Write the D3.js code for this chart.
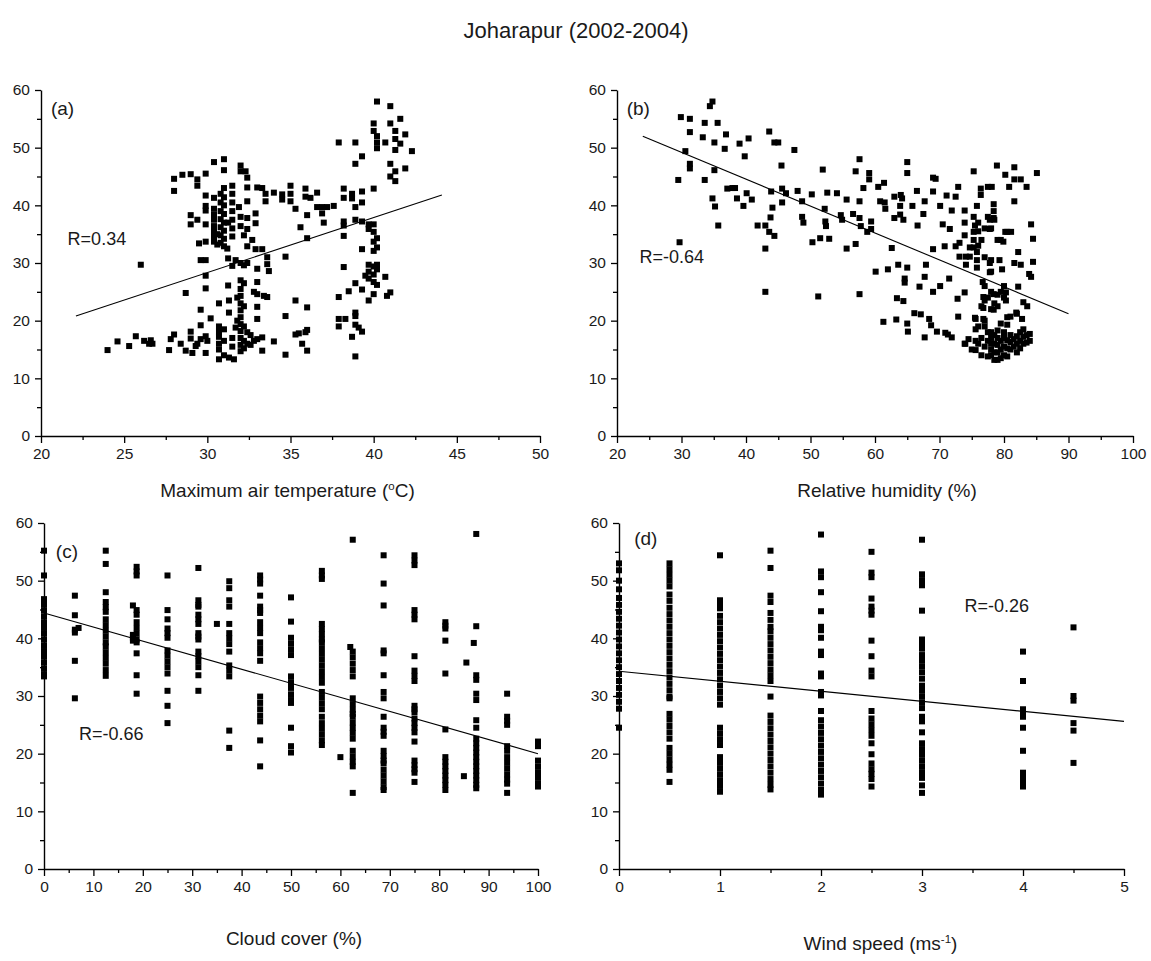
<!DOCTYPE html>
<html><head><meta charset="utf-8">
<script src="https://cdn.jsdelivr.net/npm/d3@7"></script>
<style>
html,body{margin:0;padding:0;background:#fff;}
svg{display:block;}
text{font-family:"Liberation Sans",Arial,sans-serif;fill:#1a1a1a;}
</style></head>
<body>
<svg id="chart" width="1151" height="961"></svg>
<script>
// ---------------- DATA ----------------
const chartTitle = "Joharapur (2002-2004)";
const yTicksAll = [0,10,20,30,40,50,60];
const tempTicks = [20,25,30,35,40,45,50];
const humidTicks = [20,30,40,50,60,70,80,90,100];
const cloudTicks = [0,10,20,30,40,50,60,70,80,90,100];
const windTicks = [0,1,2,3,4,5];

// (a) Maximum air temperature vs value
const tempPoints = [
[24.0,14.9],[24.6,16.4],[25.3,15.6],[25.7,17.3],[26.0,29.7],[26.2,16.5],[26.5,16.0],[26.7,16.0],[26.6,16.6],
[27.7,14.9],[27.8,16.8],[28.0,17.6],[28.0,44.6],[28.0,42.5],[28.5,45.3],[28.7,24.8],[28.7,14.8],[28.4,16.0],
[29.0,45.4],[29.0,38.3],[29.0,36.7],[29.0,18.1],[29.0,16.9],[29.1,14.4],[29.3,15.6],
[29.4,44.5],[29.4,43.4],[29.4,37.5],[29.5,33.4],[29.6,30.5],[29.6,21.9],[29.6,19.2],[29.4,16.0],[29.6,16.8],
[29.9,45.5],[29.9,41.7],[29.9,39.9],[29.9,39.1],[29.9,36.7],[29.9,33.7],[29.9,30.5],[29.9,27.8],[29.9,25.6],[29.9,17.3],[29.9,14.4],[30.0,16.5],
[30.2,20.4],[30.4,47.5],[30.4,41.3],[30.4,39.4],[30.4,37.5],[30.4,35.4],[30.4,33.7],[30.4,34.6],[30.4,36.4],[30.4,38.4],
[30.6,35.0],[30.6,33.2],[30.7,23.0],[30.7,13.3],[30.7,18.1],[30.7,16.0],[30.7,15.0],[30.7,17.2],[30.7,19.0],
[30.8,42.0],[30.8,40.5],[30.8,39.0],[30.8,37.6],[30.8,36.2],[30.8,34.8],[30.8,33.5],
[31.0,48.0],[31.0,46.1],[31.0,43.0],[31.0,41.4],[31.0,40.0],[31.0,38.5],[31.0,37.0],[31.0,35.6],[31.0,34.2],[31.0,32.9],[31.0,14.0],[31.0,16.5],[31.0,18.5],
[31.25,30.8],[31.25,26.1],[31.3,23.5],[31.3,21.4],[31.3,13.6],[31.25,37.0],[31.2,32.5],
[31.5,43.4],[31.5,42.0],[31.5,40.5],[31.5,39.0],[31.5,37.5],[31.5,36.0],[31.5,34.6],[31.5,29.5],[31.5,17.0],[31.5,15.5],
[31.6,13.3],[31.7,30.5],[31.7,18.8],[31.8,20.0],[31.8,24.0],
[32.0,46.9],[32.0,45.9],[31.9,39.7],[32.0,38.0],[32.0,36.4],[32.2,34.8],[32.0,30.0],[32.0,27.0],[32.0,25.5],[32.0,24.3],[32.0,23.0],[32.0,21.8],[32.0,20.6],[32.0,19.4],[32.0,18.2],[32.0,17.0],[32.0,15.8],[32.0,14.7],
[32.2,29.6],[32.2,26.5],[32.2,22.5],[32.2,19.0],[32.2,16.5],[32.2,15.2],
[32.3,45.9],[32.4,44.8],[32.4,43.1],[32.4,40.7],[32.4,37.8],[32.4,35.9],[32.4,32.9],[32.4,30.0],[32.4,18.0],[32.4,16.0],
[32.7,34.0],[32.6,17.5],[32.6,15.8],[32.8,16.5],[32.8,25.0],
[32.9,32.4],[32.9,38.6],[32.9,36.9],[33.0,43.1],[33.0,26.7],[33.0,22.4],[33.0,20.3],[33.0,24.6],[33.0,29.0],[33.0,16.8],
[33.3,32.4],[33.3,43.0],[33.5,42.0],[33.5,40.7],[33.6,31.0],[33.6,29.8],[33.7,28.6],[33.6,24.1],[33.3,14.8],[33.3,17.1],[33.4,24.3],
[34.0,42.2],[34.0,16.4],
[34.5,41.9],[34.5,41.0],[34.7,31.1],[34.7,20.8],[34.7,14.1],
[35.0,43.4],[35.0,42.0],[35.0,40.7],
[35.3,39.4],[35.3,23.5],[35.3,17.6],[35.5,17.8],
[35.6,36.2],[35.7,16.0],[35.9,42.9],[35.9,41.5],[36.0,38.3],[36.0,34.3],[36.0,22.3],[36.0,18.4],[36.0,14.8],[35.9,18.0],
[36.2,41.3],[36.6,42.2],[36.6,39.7],[36.9,39.7],[36.9,38.6],[37.0,37.0],[37.2,39.7],[37.6,39.9],
[37.9,50.9],[37.9,24.1],[37.9,20.3],[37.9,19.0],[38.2,42.9],[38.2,41.3],[38.2,37.2],[38.2,34.7],[38.2,29.3],[38.5,25.1],[38.7,17.2],[38.3,20.3],[38.2,36.5],
[38.7,42.0],[38.7,41.2],[38.9,50.9],[38.9,47.2],[38.9,39.7],[38.9,37.5],[38.9,21.4],[38.9,20.8],[38.9,19.3],[38.9,13.8],[38.9,26.5],
[39.3,48.5],[39.3,42.4],[39.3,40.5],[39.3,37.2],[39.3,32.4],[39.3,25.4],[39.3,18.1],[39.1,18.8],
[39.7,36.7],[39.7,35.9],[39.7,29.7],[39.7,28.5],[39.7,27.3],[39.7,23.5],[39.5,27.8],
[40.0,54.2],[40.0,52.9],[40.0,42.9],[40.0,36.7],[40.0,35.4],[40.0,33.7],[40.0,32.1],[40.0,29.4],[40.0,28.0],[40.0,26.7],[40.0,24.6],
[40.2,58.0],[40.2,52.0],[40.2,50.9],[40.2,49.9],[40.2,34.3],[40.2,32.7],[40.2,29.7],[40.2,28.9],[40.2,26.2],
[40.7,50.9],[40.7,27.6],[40.8,24.3],
[41.0,57.2],[41.0,54.2],[41.0,47.2],[41.0,45.0],[41.0,24.9],
[41.3,52.9],[41.3,51.5],[41.3,49.6],[41.3,45.9],[41.3,44.2],
[41.6,55.0],[41.6,50.7],[41.9,52.3],[41.9,46.4],[42.3,49.4]
];

// (b) Relative humidity vs value
const humidPoints = [
[29.7,33.6],[29.5,44.4],[29.9,55.3],[30.6,49.4],[31.3,55.0],[31.3,52.7],[31.3,47.2],[31.3,46.4],[33.3,51.8],[33.6,54.3],[33.6,44.4],
[34.4,57.2],[34.8,58.0],[34.8,41.2],[35.1,46.1],[35.1,50.9],[35.2,39.8],[35.6,54.3],[35.7,36.5],[36.7,49.8],[36.9,52.3],
[37.1,42.9],[37.9,43.0],[38.3,43.0],[38.6,41.2],[39.0,50.7],[39.8,48.5],[39.6,39.9],[40.1,42.1],[40.4,51.6],[40.9,41.0],
[41.8,36.5],[43.0,36.5],[43.0,32.5],[43.0,25.0],[43.6,52.8],[43.8,37.9],[43.9,42.4],[43.6,35.4],[44.1,39.6],[44.4,34.7],
[44.4,50.9],[45.0,50.9],[45.5,46.9],[45.6,42.9],[45.6,40.5],[46.2,42.1],[47.5,49.6],[48.0,42.5],[48.7,40.7],[48.7,38.0],[48.9,37.0],
[50.2,41.9],[50.3,33.6],[51.9,46.2],[52.2,39.4],[52.3,37.2],[52.4,36.4],[51.5,34.3],[52.6,42.2],[52.9,34.2],[51.2,24.2],
[54.1,42.1],[54.7,38.3],[54.9,37.5],[55.6,41.0],[55.6,32.5],[56.6,38.5],[57.0,45.9],[57.0,33.3],[57.6,48.0],[57.6,40.7],
[57.6,37.8],[57.8,36.4],[57.6,24.6],[58.2,43.0],[59.1,45.6],[59.1,44.5],[58.8,35.4],[59.4,37.2],[59.4,35.9],[60.1,28.5],
[60.5,43.2],[60.8,40.7],[61.4,43.9],[61.3,19.8],[61.5,40.5],[61.6,39.4],[62.0,28.9],[62.6,32.6],[63.0,41.5],[63.0,37.8],
[63.3,20.2],[63.4,23.9],[63.6,29.7],[63.9,38.4],[63.9,39.9],[64.0,41.8],[64.2,41.2],[64.4,23.4],[64.4,37.5],[64.6,27.3],[64.6,26.6],
[65.0,47.5],[65.0,45.6],[65.0,29.2],[65.0,19.5],[65.1,18.1],[65.8,39.9],[66.1,21.3],[66.5,42.5],[66.6,36.5],[66.9,25.9],
[67.1,21.1],[67.5,38.5],[67.7,40.7],[67.7,27.6],[67.7,17.1],[67.9,29.7],[68.4,20.3],[68.7,19.2],[69.0,44.8],[69.4,44.6],[69.0,42.4],
[69.0,32.4],[69.0,25.0],[69.6,18.1],[70.1,39.9],[70.1,26.0],[70.5,36.7],[70.8,32.9],[70.9,17.9],[71.1,41.7],[71.3,17.6],
[71.5,27.3],[71.6,35.9],[71.9,39.1],[71.9,17.1],[72.5,32.9],[72.5,41.5],[72.8,23.8],[72.9,43.2],[72.9,20.7],[73.1,33.5],
[73.1,31.1],[73.9,39.1],[73.9,37.0],[73.9,34.8],[73.9,24.9],[73.9,16.0],[74.1,31.1],[74.1,29.7],[74.7,32.7],[74.7,31.1],
[75.3,45.9],[75.3,38.0],[75.3,35.4],[75.3,34.0],[75.3,32.7],[75.6,20.3],[75.6,18.5],[75.6,16.5],[75.6,14.9],[75.8,39.9],
[75.8,31.9],[75.8,30.5],[75.8,29.2],[76.4,42.9],[76.4,41.8],[76.7,26.7],[76.8,24.1],[76.8,22.2],[76.8,20.3],[77.5,43.2],
[77.8,37.5],[77.8,35.9],[77.8,30.0],[77.8,28.4],[78.1,43.2],[78.4,40.2],[78.4,39.0],[78.4,37.8],[78.4,24.6],[78.4,21.9],
[78.9,46.9],[79.0,34.0],[79.3,30.5],[79.7,28.9],[79.9,33.7],[80.2,45.3],[80.2,35.4],[80.3,24.9],[80.3,23.5],[80.5,20.6],
[80.8,43.2],[81.1,35.4],[81.6,46.6],[81.6,44.5],[81.6,40.7],[81.6,30.0],[81.9,21.4],[82.2,31.9],[82.2,25.9],[82.6,29.7],
[82.6,44.5],[82.8,20.3],[83.0,23.2],[83.5,43.2],[83.6,22.5],[83.9,28.1],[84.2,36.7],[84.2,27.6],[84.5,34.2],[84.5,30.2],[85.1,45.6],
[76.5,22.5],[77.0,23.5],[77.0,26.0],[77.5,24.0],[78.0,22.0],[78.0,25.0],[78.5,23.0],[79.0,24.5],[79.0,22.5],[79.5,25.0],
[80.0,24.0],[80.0,26.0],[78.0,28.5],[78.0,30.5],[77.0,31.0],[76.5,34.0],[76.0,35.5],[76.0,37.0],[77.0,36.0],[78.0,36.0],
[78.5,37.5],[77.5,38.0],[76.0,33.0],[75.5,36.5],[79.5,34.0],[80.5,35.4],
[76.0,16.0],[76.5,17.0],[77.0,15.5],[77.5,16.5],[77.5,18.0],[78.0,14.0],[78.0,15.0],[78.0,16.0],[78.0,17.0],[78.0,18.0],
[78.5,13.2],[78.5,14.5],[78.5,16.0],[78.5,17.5],[79.0,13.2],[79.0,14.5],[79.0,15.8],[79.0,17.0],[79.0,18.3],[79.5,13.5],
[79.5,15.0],[79.5,16.5],[80.0,14.0],[80.0,15.5],[80.0,17.0],[80.0,18.0],[80.5,13.8],[80.5,15.2],[80.5,16.6],[81.0,15.0],
[81.0,16.3],[81.0,17.5],[81.5,15.5],[81.5,16.8],[82.0,14.5],[82.0,16.0],[82.0,17.3],[82.5,15.2],[82.5,16.5],[82.5,18.0],
[83.0,16.0],[83.0,17.2],[83.0,18.5],[83.5,16.2],[83.5,17.5],[84.0,16.5],[84.0,17.7],[76.0,19.0],[77.0,20.0],[75.5,20.5],
[74.0,16.0],[74.5,16.8],[75.0,15.0],[76.5,14.0],[77.0,19.0],[77.5,13.8],[80.5,19.3],[81.0,20.7],[82.0,21.2],[79.5,19.5]
];

// (c) Cloud cover columns: [cloud cover %, values at that cover]
const cloudColumns = [
[0,[55.2,50.9,46.8,45.8,44.8,43.8,42.8,41.8,40.8,39.8,38.8,37.8,36.8,35.8,34.8,33.8,33.4]],
[6.25,[47.4,44.0,41.5,41.0,36.1,29.6]],
[7,[41.8]],
[12.5,[55.2,52.9,48.0,46.3,45.4,44.6,43.3,42.3,41.3,40.3,39.3,38.6,37.6,36.6,35.6,34.5,33.5]],
[18,[45.7,40.6,40.1,39.6]],
[18.75,[52.4,51.6,50.9,44.9,44.1,42.8,41.8,40.8,39.8,39.3,37.4,33.6,30.4]],
[25,[50.9,44.9,43.3,41.7,40.9,40.1,37.9,37.0,36.0,35.0,33.9,30.9,28.3,25.3]],
[31.25,[52.2,46.6,45.8,45.5,44.1,43.3,42.5,40.9,40.3,39.8,37.7,36.9,36.0,35.0,33.6,30.9]],
[35,[42.5]],
[37.5,[49.9,48.7,46.6,45.5,42.5,40.9,40.0,39.0,37.7,35.3,34.4,33.4,24.0,21.0]],
[43.75,[50.9,50.2,49.5,47.4,45.5,44.9,44.4,42.8,41.8,40.9,39.3,38.3,37.4,36.1,29.9,28.8,27.7,26.6,25.6,22.3,17.8]],
[50,[47.1,42.9,40.1,39.1,38.1,37.1,33.4,32.4,31.4,30.3,29.3,28.8,24.5,21.3,20.2]],
[56.25,[51.7,50.9,50.3,42.5,41.6,40.7,39.8,39.3,38.3,37.3,36.3,35.3,34.3,33.3,32.3,30.7,29.7,28.7,27.7,26.4,25.3,24.3,23.3,22.3,21.5]],
[60,[19.4]],
[62,[38.5]],
[62.5,[57.1,37.7,36.7,35.6,34.5,33.4,29.6,28.6,27.6,26.9,26.4,25.4,24.5,23.6,22.6,20.5,19.5,18.6,17.8,13.2]],
[68.75,[54.4,49.5,45.7,37.9,37.4,33.6,30.7,29.6,26.4,24.5,23.8,23.1,20.5,19.6,18.8,18.3,17.2,16.2,15.2,14.2,13.7]],
[75,[54.4,53.5,52.7,44.9,44.1,43.3,36.9,34.4,33.5,32.6,28.3,27.7,27.2,26.1,25.3,24.5,23.7,22.1,18.8,18.0,17.3,16.7,15.1]],
[81.25,[42.8,42.2,41.7,39.6,33.9,24.2,19.4,18.6,17.8,17.0,16.2,15.4,14.6,13.7]],
[85,[16.1]],
[85.5,[35.8]],
[87,[39.2]],
[87.5,[58.1,42.1,33.6,32.8,30.4,29.3,25.8,24.5,22.6,21.8,21.0,20.2,19.4,18.6,17.8,17.0,16.2,15.4,14.6,14.0]],
[93.75,[30.4,26.4,25.7,25.0,21.3,20.5,19.4,18.4,17.4,16.4,15.5,14.8,13.2]],
[100,[22.1,21.3,18.8,17.8,16.8,15.8,14.8,14.3]]
];

// (d) Wind speed columns: [wind speed, values at that speed]
const windColumns = [
[0,[53.0,51.8,50.0,48.5,47.0,45.8,44.6,43.4,42.2,41.0,39.8,38.6,37.4,36.2,35.0,33.8,32.6,31.4,30.2,29.0,27.8,24.5]],
[0.5,[53.0,52.0,51.0,50.0,49.0,47.6,46.5,45.3,44.2,43.1,42.0,40.9,39.8,38.7,37.6,36.5,35.4,34.3,33.2,32.1,31.0,29.9,29.6,26.9,25.9,24.8,23.7,22.6,21.0,20.0,19.0,18.1,17.2,15.1]],
[1,[54.4,46.6,45.9,45.2,43.9,42.8,41.7,40.6,39.5,38.4,37.3,36.2,35.1,34.0,32.9,31.8,30.7,29.6,28.5,24.5,23.5,22.5,21.5,19.4,18.4,17.4,16.4,15.4,14.4,13.4]],
[1.5,[55.2,52.2,47.4,46.3,44.4,43.2,42.0,41.2,40.1,39.0,37.9,36.8,35.7,34.6,33.6,32.6,29.9,26.6,25.5,24.4,23.3,22.2,21.1,20.0,18.9,17.8,16.7,15.6,14.6,13.8]],
[2,[58.0,51.6,50.6,48.0,44.7,42.0,41.4,40.1,37.7,37.1,33.9,33.4,30.7,30.1,27.4,25.8,24.7,23.6,22.5,21.4,20.3,19.2,18.1,17.0,15.9,14.8,13.7,12.9]],
[2.5,[55.0,51.4,50.6,46.9,45.5,44.8,44.1,39.6,36.9,34.4,33.4,27.4,26.1,25.1,24.1,23.1,21.8,19.9,18.3,17.3,16.5,15.6,14.3]],
[3,[57.1,51.1,50.1,49.2,44.8,39.8,39.0,38.2,37.1,36.1,35.1,34.1,33.0,31.8,30.9,29.9,28.9,27.9,26.4,25.6,23.7,21.8,20.8,19.8,18.8,17.8,16.8,15.8,14.5,13.2]],
[4,[37.7,32.6,27.7,27.0,26.4,24.5,20.5,16.7,15.8,15.0,14.3]],
[4.5,[41.9,30.0,29.2,25.3,24.0,18.4]]
];

// regression line end points
const fitTemp = [[22.1,20.8],[44.1,41.8]];
const fitHumid = [[24,52.0],[90,21.2]];
const fitCloud = [[0,44.4],[100,20.0]];
const fitWind = [[0,34.3],[5,25.6]];

const rLabels = ["R=0.34","R=-0.64","R=-0.66","R=-0.26"];
const panelTags = ["(a)","(b)","(c)","(d)"];

// ---------------- DRAW ----------------
const svg = d3.select("#chart");
svg.append("text").attr("x",576).attr("y",38).attr("text-anchor","middle")
  .style("font-size","22px").text(chartTitle);

function flatten(cols){ const out=[]; cols.forEach(c=>c[1].forEach(v=>out.push([c[0],v]))); return out; }

const panels = [
 {pts:tempPoints, dom:[20,50], ticks:tempTicks, minor:2.5, xr:[41,540], yr:[436,90], fit:fitTemp, r:rLabels[0], rPos:[21.6,34.2], tag:panelTags[0], tagPos:[20.6,56.8],
  title:["Maximum air temperature (","o","C)"], titleY:497, titleDx:-3},
 {pts:humidPoints, dom:[20,100], ticks:humidTicks, minor:5, xr:[617,1133], yr:[436,90], fit:fitHumid, r:rLabels[1], rPos:[23.5,31.0], tag:panelTags[1], tagPos:[21.5,56.8],
  title:["Relative humidity (%)"], titleY:497, titleDx:12},
 {pts:flatten(cloudColumns), dom:[0,100], ticks:cloudTicks, minor:5, xr:[44,538], yr:[869,523], fit:fitCloud, r:rLabels[2], rPos:[7.1,23.4], tag:panelTags[2], tagPos:[2.4,55.2],
  title:["Cloud cover (%)"], titleY:945, titleDx:3},
 {pts:flatten(windColumns), dom:[0,5], ticks:windTicks, minor:0.5, xr:[619,1124], yr:[869,523], fit:fitWind, r:rLabels[3], rPos:[3.42,45.6], tag:panelTags[3], tagPos:[0.15,57.4],
  title:["Wind speed (ms","-1",")"], titleY:950, titleDx:9}
];

panels.forEach(p=>{
  const x = d3.scaleLinear().domain(p.dom).range(p.xr);
  const y = d3.scaleLinear().domain([0,60]).range(p.yr);
  const g = svg.append("g");
  const x0 = p.xr[0], y0 = p.yr[0];

  const xMinor = d3.range(p.dom[0], p.dom[1]+1e-9, p.minor).filter(v=>!p.ticks.some(t=>Math.abs(t-v)<1e-9));
  const yMinor = d3.range(5,60,10);
  const xAxis = d3.axisBottom(x).tickValues(p.ticks).tickFormat(d3.format("d")).tickSize(7).tickPadding(5).tickSizeOuter(0);
  const yAxis = d3.axisLeft(y).tickValues(yTicksAll).tickFormat(d3.format("d")).tickSize(6).tickPadding(5).tickSizeOuter(0);
  g.append("g").attr("transform",`translate(0,${y0})`)
    .call(d3.axisBottom(x).tickValues(xMinor).tickSize(4).tickFormat("").tickSizeOuter(0))
    .select(".domain").remove();
  g.append("g").attr("transform",`translate(${x0},0)`)
    .call(d3.axisLeft(y).tickValues(yMinor).tickSize(4).tickFormat("").tickSizeOuter(0))
    .select(".domain").remove();
  const gx = g.append("g").attr("transform",`translate(0,${y0})`).call(xAxis);
  const gy = g.append("g").attr("transform",`translate(${x0},0)`).call(yAxis);
  [gx,gy].forEach(a=>{
    a.select(".domain").attr("stroke","#000").attr("stroke-width",1.4);
    a.selectAll(".tick text").style("font-size","15.5px").style("font-family","'Liberation Sans',Arial,sans-serif").attr("fill","#1a1a1a");
  });
  g.selectAll(".tick line").attr("stroke","#000").attr("stroke-width",1.3);

  // points
  const s = 6;
  g.append("g").selectAll("rect").data(p.pts).join("rect")
    .attr("x",d=>x(d[0])-s/2).attr("y",d=>y(d[1])-s/2)
    .attr("width",s).attr("height",s).attr("fill","#000");

  // fit line
  g.append("line").attr("x1",x(p.fit[0][0])).attr("y1",y(p.fit[0][1]))
    .attr("x2",x(p.fit[1][0])).attr("y2",y(p.fit[1][1]))
    .attr("stroke","#000").attr("stroke-width",1.1);

  // labels
  g.append("text").attr("x",x(p.rPos[0])).attr("y",y(p.rPos[1])+6).style("font-size","18px").text(p.r);
  g.append("text").attr("x",x(p.tagPos[0])).attr("y",y(p.tagPos[1])+7).style("font-size","19px").text(p.tag);

  // axis title
  const t = g.append("text").attr("x",(p.xr[0]+p.xr[1])/2 + p.titleDx).attr("y",p.titleY)
    .attr("text-anchor","middle").style("font-size","19px");
  if(p.title.length===1){ t.text(p.title[0]); }
  else {
    t.append("tspan").text(p.title[0]);
    t.append("tspan").attr("dy",-7).style("font-size","11.5px").text(p.title[1]);
    t.append("tspan").attr("dy",7).text(p.title[2]);
  }
});
</script>
</body></html>
